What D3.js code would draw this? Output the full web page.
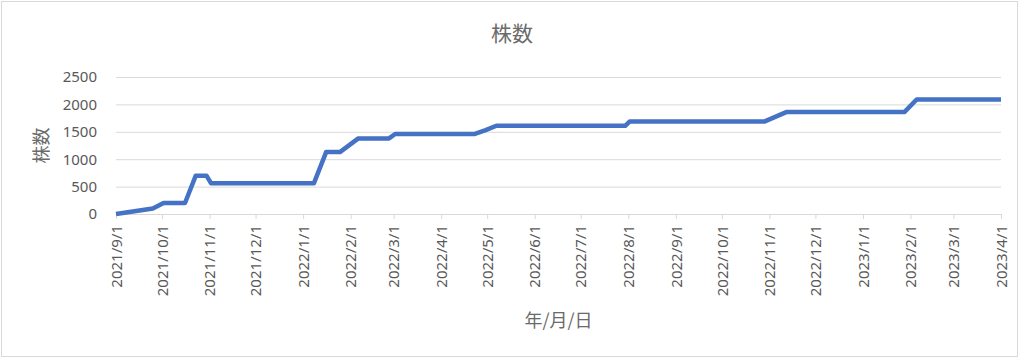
<!DOCTYPE html>
<html>
<head>
<meta charset="utf-8">
<script src="https://cdn.jsdelivr.net/npm/d3@7"></script>
<style>
  body { margin: 0; background: #fff; }
  svg { display: block; }
  .tick text { font-family: "Noto Sans", sans-serif; fill: #595959; }
  .cjk { font-family: "Noto Sans CJK JP", sans-serif; fill: #6a6a6a; }
</style>
</head>
<body>
<svg id="chart"></svg>
<script>
// data
const dates = [
  '2021-09-01', '2021-09-25', '2021-10-02', '2021-10-16', '2021-10-23', '2021-10-30',
  '2021-11-02', '2022-01-08', '2022-01-16', '2022-01-25', '2022-02-06', '2022-02-26',
  '2022-03-02', '2022-04-23', '2022-04-30', '2022-05-07', '2022-07-30', '2022-08-02',
  '2022-10-29', '2022-11-12', '2023-01-28', '2023-02-05', '2023-04-01'
];
const shares = [
  0, 100, 200, 200, 700, 700,
  560, 560, 1130, 1130, 1380, 1380,
  1460, 1460, 1530, 1610, 1610, 1690,
  1690, 1860, 1860, 2090, 2090
];
const yTicks = [0, 500, 1000, 1500, 2000, 2500];
const xStart = '2021-09-01', xEnd = '2023-04-01';

const parse = d3.utcParse('%Y-%m-%d');
const fmt = d3.utcFormat('%Y/%-m/%-d');
const data = dates.map((d, i) => ({date: parse(d), value: shares[i]}));

const width = 1024, height = 361;
const margin = {top: 77, right: 23, bottom: 147, left: 116};
const innerW = width - margin.left - margin.right;
const innerH = height - margin.top - margin.bottom;

const svg = d3.select('#chart')
  .attr('width', width)
  .attr('height', height);

// chart area border
svg.append('rect')
  .attr('x', 1.5).attr('y', 1.5)
  .attr('width', 1016).attr('height', 355)
  .attr('fill', '#fff')
  .attr('stroke', '#d9d9d9');

const chart = svg.append('g')
  .attr('transform', `translate(${margin.left}, ${margin.top})`);

const xScale = d3.scaleUtc()
  .domain([parse(xStart), parse(xEnd)])
  .range([0, innerW]);

const yScale = d3.scaleLinear()
  .domain([0, 2500])
  .range([innerH, 0]);

// gridlines + y labels
const yAxis = d3.axisLeft(yScale)
  .tickValues(yTicks)
  .tickFormat(d3.format('d'))
  .tickSize(-innerW)
  .tickPadding(19);

const yAxisG = chart.append('g').call(yAxis);
yAxisG.select('.domain').remove();
yAxisG.selectAll('.tick line').attr('stroke', '#d9d9d9');
yAxisG.selectAll('.tick text').attr('font-size', 15);

// x axis
const xAxis = d3.axisBottom(xScale)
  .ticks(d3.utcMonth.every(1))
  .tickFormat(fmt)
  .tickSize(5)
  .tickSizeOuter(0);

const xAxisG = chart.append('g')
  .attr('transform', `translate(0, ${innerH})`)
  .call(xAxis);
xAxisG.select('.domain').attr('stroke', '#d9d9d9');
xAxisG.selectAll('.tick line').attr('stroke', '#d9d9d9');
xAxisG.selectAll('.tick text')
  .attr('font-size', 15)
  .attr('transform', 'rotate(-90)')
  .attr('text-anchor', 'end')
  .attr('x', -11)
  .attr('y', 0)
  .attr('dy', '0.35em');

// line
const line = d3.line()
  .x(d => xScale(d.date))
  .y(d => yScale(d.value));

chart.append('path')
  .datum(data)
  .attr('fill', 'none')
  .attr('stroke', '#4472c4')
  .attr('stroke-width', 4.5)
  .attr('stroke-linejoin', 'round')
  .attr('d', line);

// titles
svg.append('text')
  .attr('class', 'cjk')
  .attr('x', 512).attr('y', 41)
  .attr('text-anchor', 'middle')
  .attr('font-size', 21)
  .text('株数');

svg.append('text')
  .attr('class', 'cjk')
  .attr('transform', `translate(48, ${margin.top + innerH / 2}) rotate(-90)`)
  .attr('text-anchor', 'middle')
  .attr('font-size', 18)
  .text('株数');

svg.append('text')
  .attr('class', 'cjk')
  .attr('x', margin.left + innerW / 2).attr('y', 327)
  .attr('text-anchor', 'middle')
  .attr('font-size', 18)
  .text('年/月/日');
</script>
</body>
</html>
